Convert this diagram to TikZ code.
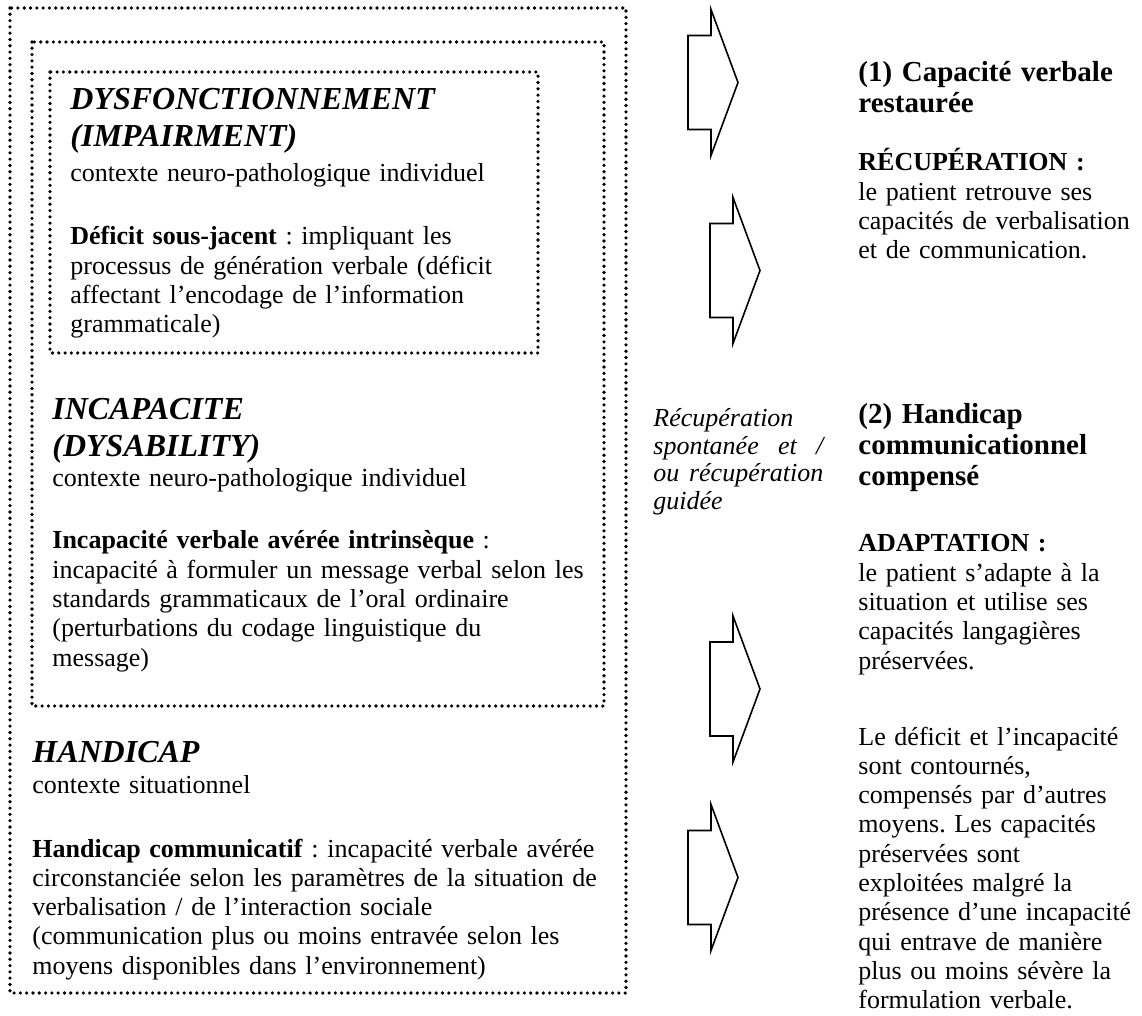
\documentclass[tikz,border=0pt]{standalone}
\usepackage{fontspec}
\setmainfont{Liberation Serif}
\usepackage{tikz}
\frenchspacing

\newcommand\corps{\fontsize{13pt}{14.65pt}\selectfont}
\newcommand\grandtitre{\fontsize{16pt}{18.5pt}\selectfont\bfseries\itshape}
\newcommand\souscol{\fontsize{14.5pt}{15.5pt}\selectfont\bfseries}

\begin{document}
\begin{tikzpicture}[
x=0.5pt, y=-0.5pt,
  dotbox/.style = {draw, line width=1.8pt, dash pattern=on 0pt off 3.15pt,
                   line cap=round},% nested dotted frames
blockarr/.style = {draw, line width=0.8pt, line join=miter},
     txt/.style = {anchor=base west, inner sep=0pt, align=left,
                   text width=290pt, font=\corps},
   titre/.style = {txt, font=\grandtitre},
  coltit/.style = {txt, font=\souscol},
                    ]
\useasboundingbox (0,0) rectangle (1142,1016);
% frames
\draw[dotbox] (10,8)  rectangle (626,993);
\draw[dotbox] (32,42) rectangle (604,706);
\draw[dotbox] (50,72) rectangle (538,353);
% inner frame
\node[titre] (dysf)    at (70,110) {DYSFONCTIONNEMENT\\(IMPAIRMENT)};
\node[txt]   (dysfctx) at (70,182) {contexte neuro-pathologique individuel};
\node[txt]   (dysfdef) at (70,245) {\textbf{Déficit sous-jacent} : impliquant les\\
  processus de génération verbale (déficit\\
  affectant l’encodage de l’information\\
  grammaticale)};
% middle frame
\node[titre] (incap)    at (52,420) {INCAPACITE\\(DYSABILITY)};
\node[txt]   (incapctx) at (52,487) {contexte neuro-pathologique individuel};
\node[txt]   (incapdef) at (52,549) {\textbf{Incapacité verbale avérée intrinsèque} :\\
  incapacité à formuler un message verbal selon les\\
  standards grammaticaux de l’oral ordinaire\\
  (perturbations du codage linguistique du\\
  message)};
% outer frame
\node[titre] (handi)    at (32,762) {HANDICAP};
\node[txt]   (handictx) at (32,793) {contexte situationnel};
\node[txt]   (handidef) at (32,857) {\textbf{Handicap communicatif} : incapacité verbale avérée\\
  circonstanciée selon les paramètres de la situation de\\
  verbalisation / de l’interaction sociale\\
  (communication plus ou moins entravée selon les\\
  moyens disponibles dans l’environnement)};
% block arrows
\foreach \nom/\x/\y in {fl1/688/82.5, fl2/710/270.5, fl3/710/689, fl4/688/877.5}
  \draw[blockarr] (\x,\y) coordinate (\nom) ++(0,-47) -- ++(23,0) -- ++(0,-26)
    -- ++(27,73) -- ++(-27,73) -- ++(0,-26) -- ++(-23,0) -- cycle;
% side note
\node[txt, font=\fontsize{13pt}{13.75pt}\selectfont\itshape] (spont) at (653,427) {Récupération\\
  \makebox[85pt][l]{spontanée\hfill et\hfill /}\\
  \makebox[85pt][l]{ou\hfill récupération}\\
  guidée};
% right column
\node[coltit] (cap)     at (858,82)  {(1) Capacité verbale\\restaurée};
\node[txt]    (recup)   at (858,171) {\textbf{RÉCUPÉRATION :}\\
  le patient retrouve ses\\
  capacités de verbalisation\\
  et de communication.};
\node[coltit] (hcomp)   at (858,424) {(2) Handicap\\communicationnel\\compensé};
\node[txt]    (adapt)   at (858,552) {\textbf{ADAPTATION :}\\
  le patient s’adapte à la\\
  situation et utilise ses\\
  capacités langagières\\
  préservées.};
\node[txt]    (contour) at (858,745) {Le déficit et l’incapacité\\
  sont contournés,\\
  compensés par d’autres\\
  moyens. Les capacités\\
  préservées sont\\
  exploitées malgré la\\
  présence d’une incapacité\\
  qui entrave de manière\\
  plus ou moins sévère la\\
  formulation verbale.};
\end{tikzpicture}
\end{document}
